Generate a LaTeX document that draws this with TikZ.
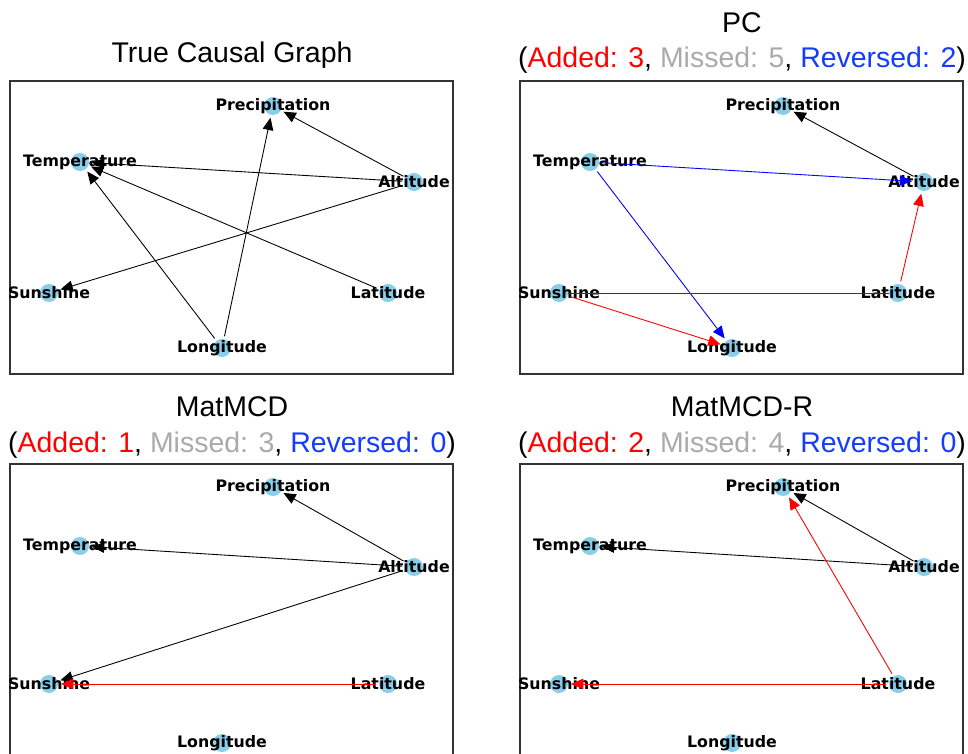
\documentclass[tikz,border=0pt]{standalone}
\usepackage{fontspec}
\setmainfont{Liberation Sans}
\newfontfamily\dejavu{DejaVu Sans}
\usepackage{tikz}
\usetikzlibrary{arrows.meta, positioning}
\definecolor{skyblue}{RGB}{135,206,235}
\definecolor{addred}{RGB}{255,0,0}
\definecolor{missgray}{RGB}{170,170,170}
\definecolor{revblue}{RGB}{20,60,255}
\tikzstyle{vert} = [circle, fill=skyblue, minimum size=0.36cm, inner sep=0pt]
\tikzstyle{lbl} = [font=\dejavu\bfseries\fontsize{9}{10}\selectfont, inner sep=0pt]
\tikzstyle{title} = [font=\fontsize{16.2}{19}\selectfont, anchor=base, inner sep=0pt]
\tikzstyle{frame} = [draw=black!80, line width=0.6pt]
\tikzstyle{edge} = [->, line width=0.5pt, shorten >=1.5pt, shorten <=1.5pt]
\newcommand{\scores}[3]{(\textcolor{addred}{Added: #1}, \textcolor{missgray}{Missed: #2}, \textcolor{revblue}{Reversed: #3})}

\begin{document}
\begin{tikzpicture}[x=0.02cm, y=-0.02cm, >={Triangle[length=7pt,width=6pt]}]
    \useasboundingbox (0,0) rectangle (968,754);

    % titles
    \node [title] (title1) at (232,62) {True Causal Graph};
    \node [title] (title2) at (742,32) {PC};
    \node [title] (score2) at (742,67) {\scores{3}{5}{2}};
    \node [title] (title3) at (232,416) {MatMCD};
    \node [title] (score3) at (232,452) {\scores{1}{3}{0}};
    \node [title] (title4) at (742,416) {MatMCD-R};
    \node [title] (score4) at (742,452) {\scores{2}{4}{0}};

    % frames
    \draw [frame] (10,81) rectangle (453,374);
    \draw [frame] (520,81) rectangle (963,374);
    \draw [frame] (10,754) |- (453,464) -- (453,754);
    \draw [frame] (520,754) |- (963,464) -- (963,754);

    % true causal graph
    \node [vert, label={[lbl]center:Precipitation}] (prec1) at (273,106) {};
    \node [vert, label={[lbl]center:Temperature}] (temp1) at (80,162) {};
    \node [vert, label={[lbl]center:Altitude}] (alt1) at (414,182) {};
    \node [vert, label={[lbl]center:Sunshine}] (sun1) at (49,293) {};
    \node [vert, label={[lbl]center:Latitude}] (lat1) at (388,293) {};
    \node [vert, label={[lbl]center:Longitude}] (long1) at (222,348) {};
    \draw [edge] (alt1) -- (prec1);
    \draw [edge] (long1) -- (prec1);
    \draw [edge] (alt1) -- (temp1);
    \draw [edge] (long1) -- (temp1);
    \draw [edge] (lat1) -- (temp1);
    \draw [edge] (alt1) -- (sun1);

    % PC
    \node [vert, label={[lbl]center:Precipitation}] (prec2) at (783,106) {};
    \node [vert, label={[lbl]center:Temperature}] (temp2) at (590,162) {};
    \node [vert, label={[lbl]center:Altitude}] (alt2) at (924,182) {};
    \node [vert, label={[lbl]center:Sunshine}] (sun2) at (559,293) {};
    \node [vert, label={[lbl]center:Latitude}] (lat2) at (898,293) {};
    \node [vert, label={[lbl]center:Longitude}] (long2) at (732,348) {};
    \draw [edge] (alt2) -- (prec2);
    \draw [edge, blue] (temp2) -- (alt2);
    \draw [edge, blue] (temp2) -- (long2);
    \draw [edge, addred] (lat2) -- (alt2);
    \draw [edge, addred] (sun2) -- (long2);
    \draw [addred!70!black, line width=0.4pt] (sun2) -- (lat2);

    % MatMCD
    \node [vert, label={[lbl]center:Precipitation}] (prec3) at (273,487) {};
    \node [vert, label={[lbl]center:Temperature}] (temp3) at (80,546) {};
    \node [vert, label={[lbl]center:Altitude}] (alt3) at (414,567) {};
    \node [vert, label={[lbl]center:Sunshine}] (sun3) at (49,684) {};
    \node [vert, label={[lbl]center:Latitude}] (lat3) at (388,684) {};
    \node [vert, label={[lbl]center:Longitude}] (long3) at (222,743) {};
    \draw [edge] (alt3) -- (prec3);
    \draw [edge] (alt3) -- (temp3);
    \draw [edge] (alt3) -- (sun3);
    \draw [edge, addred] (lat3) -- (sun3);

    % MatMCD-R
    \node [vert, label={[lbl]center:Precipitation}] (prec4) at (783,487) {};
    \node [vert, label={[lbl]center:Temperature}] (temp4) at (590,546) {};
    \node [vert, label={[lbl]center:Altitude}] (alt4) at (924,567) {};
    \node [vert, label={[lbl]center:Sunshine}] (sun4) at (559,684) {};
    \node [vert, label={[lbl]center:Latitude}] (lat4) at (898,684) {};
    \node [vert, label={[lbl]center:Longitude}] (long4) at (732,743) {};
    \draw [edge] (alt4) -- (prec4);
    \draw [edge] (alt4) -- (temp4);
    \draw [edge, addred] (lat4) -- (prec4);
    \draw [edge, addred] (lat4) -- (sun4);
\end{tikzpicture}
\end{document}
